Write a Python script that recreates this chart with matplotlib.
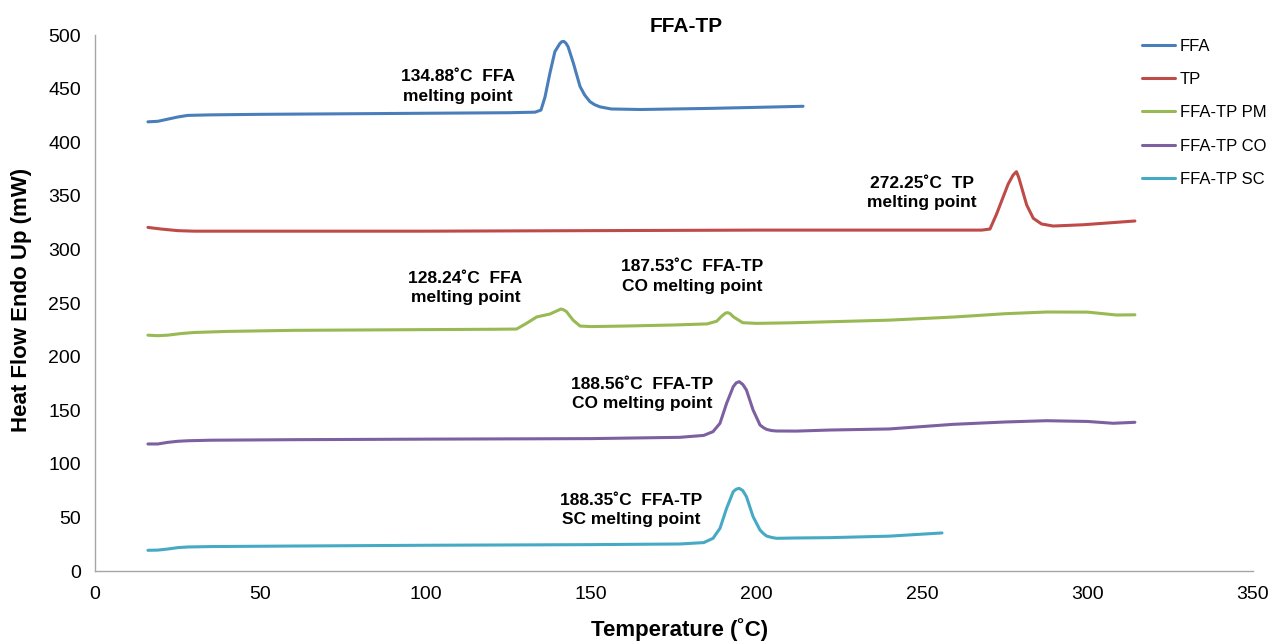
import matplotlib
matplotlib.use("Agg")
import matplotlib.pyplot as plt

plt.rcParams['font.family'] = ['Liberation Sans', 'DejaVu Sans']

# ---- data ----
ffa_x = [16, 19, 22, 25, 28, 35, 50, 75, 100, 125, 133, 134.8, 136, 137.5, 139, 140.5, 141.1, 141.7,
         142.3, 143, 144.6, 145.6, 146.6, 148, 149.6, 151, 152.6, 156, 165, 185, 200, 214]
ffa_y = [419, 419.5, 421.5, 423.5, 425, 425.5, 426, 426.5, 427, 427.5, 428, 430, 442, 464.5, 484.5,
         492, 493.8, 494, 492.5, 489, 473.6, 462.7, 452, 444, 437.8, 435, 433, 431, 430.5, 431.5,
         432.5, 433.5]

tp_x = [16, 20, 25, 30, 50, 100, 150, 200, 250, 268, 270.5, 272.5, 274.5, 276, 277.5, 278.5, 279.2,
        280, 281.6, 283.6, 286.1, 289.6, 298.7, 314.3]
tp_y = [320.5, 319, 317.5, 317, 317, 317, 317.5, 318, 318, 318, 319, 333, 349, 361, 369.4, 372.5,
        367, 358.5, 341.4, 329, 323.7, 321.8, 323, 326.5]

pm_x = [16, 19, 22, 26, 30, 40, 60, 90, 120, 127.4, 130.4, 133.5, 137.5, 140.2, 140.8, 141.5, 142.5,
        144.5, 146.6, 150, 160, 175, 185, 187.9, 189.5, 190.6, 191.2, 191.9, 193, 195.8, 200, 210,
        222, 240, 260, 275, 287.6, 300, 308.7, 314.3]
pm_y = [220, 219.5, 220, 221.5, 222.5, 223.5, 224.5, 225, 225.5, 225.7, 231, 237, 239.7, 243.5,
        244.4, 243.8, 242, 234, 228.5, 228, 228.5, 229.5, 230.5, 233, 238, 240.6, 241, 240.2, 237,
        231.6, 231, 231.5, 232.5, 234, 237, 240, 241.6, 241.5, 238.8, 239]

co_x = [16, 19, 22, 25, 28, 35, 60, 100, 150, 176.8, 184, 186.8, 188.9, 190.9, 192.9, 193.8, 194.7,
        195.8, 196.9, 198.9, 201, 202, 203, 204.5, 206, 212, 222, 240, 259.3, 275, 287.6, 300,
        307.7, 314.3]
co_y = [118.5, 118.5, 120, 121, 121.5, 122, 122.5, 123, 123.5, 124.7, 126.5, 130, 137.8, 156.4,
        171.9, 175.5, 176.6, 174, 168.8, 150.2, 136.2, 133.8, 132.1, 131, 130.6, 130.5, 131.5,
        132.5, 136.8, 139, 140.2, 139.5, 137.8, 138.7]

sc_x = [16, 19, 22, 25, 28, 35, 60, 100, 150, 176.8, 184, 186.8, 188.9, 190.9, 192.9, 193.8, 194.7,
        195.8, 196.9, 198.9, 201, 202, 203, 204.5, 206, 212, 222, 240, 256]
sc_y = [19.3, 19.5, 20.5, 21.8, 22.4, 22.8, 23.3, 24, 24.6, 25.2, 26.5, 30.5, 39.8, 58.5, 74, 76.3,
        77.1, 75, 69.3, 50.7, 38.2, 35, 32.6, 31.3, 30.5, 30.8, 31.1, 32.5, 35.5]

series_names = ['FFA', 'TP', 'FFA-TP PM', 'FFA-TP CO', 'FFA-TP SC']
colors = ['#4A7EBB', '#BE4B48', '#98B954', '#7D60A0', '#46AAC5']

ann_texts = ['134.88˚C  FFA\nmelting point',
             '272.25˚C  TP\nmelting point',
             '128.24˚C  FFA\nmelting point',
             '187.53˚C  FFA-TP\nCO melting point',
             '188.56˚C  FFA-TP\nCO melting point',
             '188.35˚C  FFA-TP\nSC melting point']
ann_x = [109.7, 250, 112, 180.4, 165.3, 162]
ann_y = [452, 352.6, 264, 274.7, 165, 57]

# ---- figure ----
fig = plt.figure(figsize=(12.73, 6.41), dpi=100)
ax = fig.add_axes([95/1273, 1-571/641, (1253-95)/1273, (571-35)/641])

data = [(ffa_x, ffa_y), (tp_x, tp_y), (pm_x, pm_y), (co_x, co_y), (sc_x, sc_y)]
for (xs, ys), name, c in zip(data, series_names, colors):
    ax.plot(xs, ys, color=c, lw=2.2, label=name, solid_capstyle='round', solid_joinstyle='round')

for t, x, y in zip(ann_texts, ann_x, ann_y):
    ax.text(x, y, t, ha='center', va='center', fontsize=12.5, fontweight='bold', linespacing=1.35)

ax.set_xlim(0, 350)
ax.set_ylim(0, 500)
ax.set_xticks(range(0, 351, 50))
ax.set_yticks(range(0, 501, 50))
ax.tick_params(axis='both', length=0, labelsize=14, colors='#000000')
ax.tick_params(axis='y', pad=10)
ax.tick_params(axis='x', pad=11)
for s in ['top', 'right']:
    ax.spines[s].set_visible(False)
for s in ['left', 'bottom']:
    ax.spines[s].set_color('#A6A6A6')
    ax.spines[s].set_linewidth(1)

fig.text(22/1273, 1-300/641, 'Heat Flow Endo Up (mW)', rotation=90, ha='center', va='center',
         fontsize=16, fontweight='bold')
fig.text(680/1273, 1-630/641, 'Temperature (˚C)', ha='center', va='center',
         fontsize=16, fontweight='bold')
fig.text(686/1273, 1-27/641, 'FFA-TP', ha='center', va='center', fontsize=15, fontweight='bold')

leg = ax.legend(loc='upper left', bbox_to_anchor=(1135/1273, 1-32/641), bbox_transform=fig.transFigure,
                frameon=False, fontsize=12, handlelength=2.0, handletextpad=0.3, labelspacing=1.1,
                borderaxespad=0)

fig.savefig('out.png', dpi=100)
